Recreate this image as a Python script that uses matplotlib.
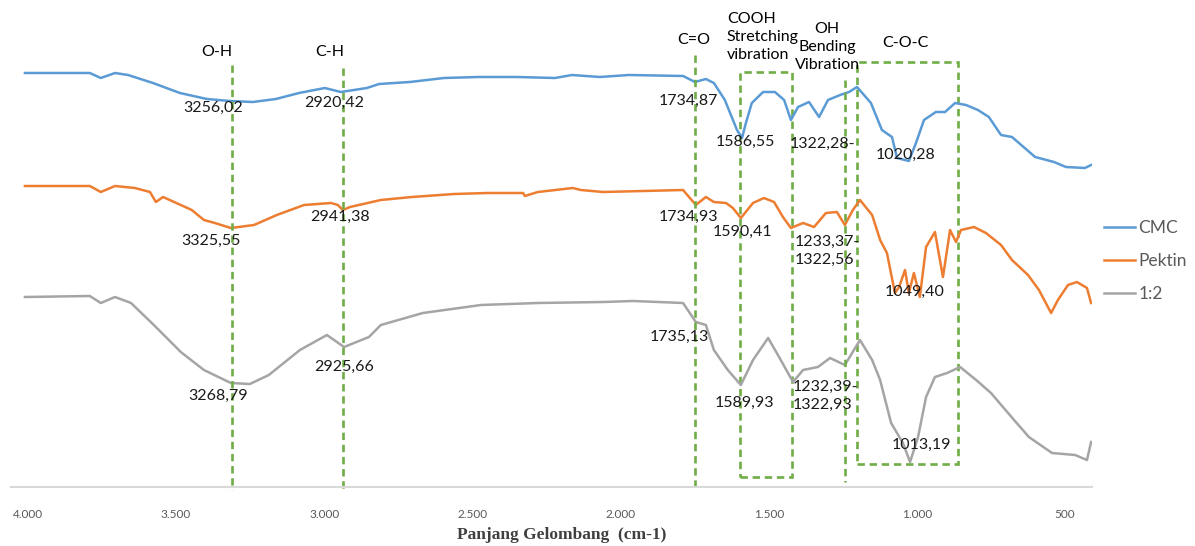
import matplotlib
matplotlib.use("Agg")
import matplotlib.pyplot as plt
from matplotlib.patches import Rectangle
from matplotlib.ticker import FuncFormatter

# ---- data (y is relative transmittance, offset per sample) ----
cmc_wn = [4010, 3791, 3754, 3706, 3662, 3578, 3487, 3396, 3318, 3241, 3163, 3085, 2998, 2944, 2856,
          2815, 2711, 2596, 2481, 2350, 2221, 2164, 2070, 1972, 1789, 1749, 1712, 1685, 1648, 1607,
          1590, 1577, 1557, 1519, 1479, 1448, 1425, 1401, 1364, 1330, 1300, 1259, 1229, 1202, 1155,
          1118, 1084, 1067, 1027, 1003, 976, 936, 905, 871, 834, 794, 757, 716, 679, 601,
          537, 497, 433, 412]
cmc_t = [414, 414, 409, 414, 412, 404, 394, 388, 386, 385, 388, 394, 399, 395, 399,
         403, 405, 409, 410, 410, 409, 412, 410, 412, 411, 405, 408, 404, 387, 357,
         349, 364, 384, 395, 395, 387, 367, 380, 385, 370, 387, 392, 395, 400, 384,
         357, 350, 329, 326, 344, 367, 375, 375, 384, 382, 377, 370, 352, 350, 330,
         325, 320, 319, 322]

pektin_wn = [4010, 3791, 3754, 3706, 3639, 3588, 3568, 3544, 3484, 3447, 3406, 3369, 3315, 3237, 3160,
             3068, 2977, 2954, 2937, 2913, 2809, 2704, 2562, 2448, 2329, 2323, 2279, 2161, 2134, 2059,
             1789, 1746, 1712, 1685, 1644, 1621, 1594, 1553, 1516, 1482, 1452, 1425, 1384, 1347, 1307,
             1270, 1243, 1216, 1192, 1151, 1124, 1101, 1074, 1060, 1040, 1027, 1010, 990, 969, 939,
             912, 888, 868, 851, 807, 767, 716, 679, 625, 588, 547, 524, 490, 460, 426, 412]
pektin_t = [301, 301, 295, 301, 299, 295, 285, 290, 282, 277, 267, 264, 259, 262, 272,
            282, 284, 282, 277, 280, 287, 290, 293, 294, 294, 291, 295, 299, 297, 295,
            297, 282, 290, 285, 284, 279, 269, 284, 289, 285, 270, 259, 264, 260, 274,
            275, 262, 277, 287, 272, 247, 234, 194, 200, 217, 194, 214, 190, 240, 255,
            210, 257, 245, 257, 260, 254, 242, 227, 212, 197, 174, 187, 202, 205, 199, 184]

mix_wn = [4010, 3791, 3754, 3706, 3652, 3575, 3484, 3406, 3315, 3251, 3187, 3082, 2991, 2933, 2849,
          2809, 2667, 2471, 2279, 2059, 1958, 1789, 1746, 1712, 1685, 1638, 1594, 1553, 1502, 1465,
          1418, 1384, 1334, 1293, 1243, 1192, 1151, 1124, 1087, 1047, 1023, 996, 969, 939, 898,
          854, 800, 750, 672, 622, 544, 466, 426, 412]
mix_t = [190, 191, 184, 190, 184, 162, 135, 117, 104, 103, 112, 137, 152, 140, 150,
         162, 174, 182, 184, 185, 186, 184, 165, 162, 137, 117, 102, 127, 149, 130,
         105, 117, 120, 129, 122, 147, 127, 107, 64, 44, 25, 50, 90, 110, 114,
         120, 107, 94, 67, 50, 34, 32, 27, 45]

series_names = ["CMC", "Pektin", "1:2"]
x_ticks = [4000, 3500, 3000, 2500, 2000, 1500, 1000, 500]

# peak labels: (text, x, y)
peak_labels = [
    ("3256,02", 3376, 379), ("2920,42", 2967, 384), ("1734,87", 1772, 386),
    ("1586,55", 1580, 345), ("1322,28-", 1320, 343), ("1020,28", 1037, 332),
    ("3325,55", 3382, 246), ("2941,38", 2947, 270), ("1734,93", 1772, 270),
    ("1590,41", 1587, 255), ("1049,40", 1006, 195),
    ("3268,79", 3359, 91), ("2925,66", 2934, 120), ("1735,13", 1800, 150),
    ("1589,93", 1583, 84), ("1013,19", 986, 42),
]
range_labels = [("1233,37-\n1322,56", 1411, 236), ("1232,39-\n1322,93", 1418, 91)]

# group marker lines: (x, y_top, y_bottom)
group_lines = [(3311, 422, -3), (2937, 419, -3), (1749, 432, -3), (1243, 407, 5)]
# group boxes: (x_left, x_right, y_bottom, y_top)
group_boxes = [(1597, 1421, 10, 415), (1202, 861, 23, 425)]

colors = ["#5B9BD5", "#ED7D31", "#A5A5A5"]
green = "#70AD47"
fs = 11.5

plt.rcParams["font.family"] = ["Lato", "DejaVu Sans"]

fig = plt.figure(figsize=(11.95, 5.46), dpi=100)
ax = fig.add_axes([11 / 1195, 59 / 546, 1081 / 1195, 487 / 546])

for wn, t, name, c in zip([cmc_wn, pektin_wn, mix_wn], [cmc_t, pektin_t, mix_t], series_names, colors):
    ax.plot(wn, t, color=c, lw=1.8, label=name, solid_joinstyle="round")

# green dashed guides
dash = (0, (2.8, 1.8))
for x, y0, y1 in group_lines:
    ax.plot([x, x], [y0, y1], color=green, lw=1.9, ls=dash, clip_on=False)
for xl, xr, yb, yt in group_boxes:
    ax.add_patch(Rectangle((xl, yb), xr - xl, yt - yb, fill=False, edgecolor=green,
                           lw=1.9, ls=dash, clip_on=False))

for txt, x, y in peak_labels:
    ax.text(x, y, txt, ha="center", va="center", fontsize=fs, color="#1a1a1a")
for txt, x, y in range_labels:
    ax.text(x, y, txt, ha="left", va="center", fontsize=fs, color="#1a1a1a", linespacing=1.3)

ax.text(3362, 435, "O-H", ha="center", va="center", fontsize=fs)
ax.text(2981, 435, "C-H", ha="center", va="center", fontsize=fs)
ax.text(1752, 447, "C=O", ha="center", va="center", fontsize=fs)
ax.text(1641, 450, "COOH\nStretching\nvibration", ha="left", va="center", fontsize=fs, linespacing=1.4)
ax.text(1303, 440, "OH\nBending\nVibration", ha="center", va="center", fontsize=fs, linespacing=1.4)
ax.text(1037, 444, "C-O-C", ha="center", va="center", fontsize=fs)

ax.set_xlim(4057, 409)
ax.set_ylim(0, 487)
ax.set_xticks(x_ticks)
ax.xaxis.set_major_formatter(FuncFormatter(lambda v, p: f"{int(v):,}".replace(",", ".")))
ax.tick_params(axis="x", length=0, pad=16, labelsize=8.5, labelcolor="#595959")
ax.set_yticks([])
for side in ["left", "right", "top"]:
    ax.spines[side].set_visible(False)
ax.spines["bottom"].set_color("#D9D9D9")
ax.spines["bottom"].set_linewidth(1.5)

ax.set_xlabel("Panjang Gelombang  (cm-1)", family="Liberation Serif", fontweight="bold",
              fontsize=12.5, color="#404040")
ax.xaxis.set_label_coords(0.509, -0.098)
ax.xaxis.label.set_va("center")

leg = ax.legend(loc="center left", bbox_to_anchor=(1088 / 1195, 1 - 261 / 546),
                bbox_transform=fig.transFigure, frameon=False, fontsize=12.5,
                handlelength=1.8, handletextpad=0.2, labelspacing=1.0)
for t in leg.get_texts():
    t.set_color("#595959")

fig.savefig("out.png", dpi=100)
